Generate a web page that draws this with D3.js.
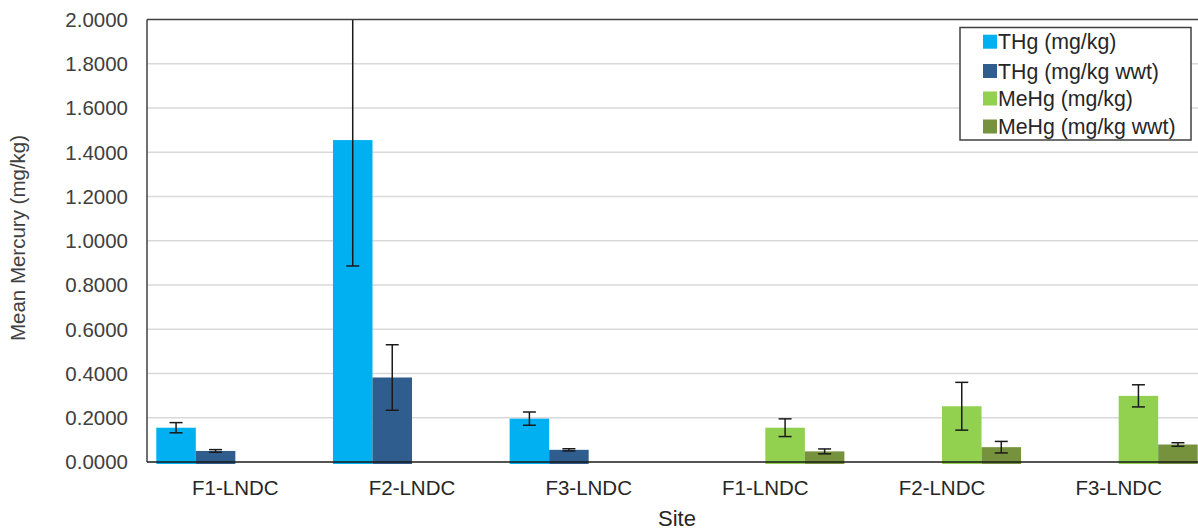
<!DOCTYPE html>
<html>
<head>
<meta charset="utf-8">
<script src="https://cdn.jsdelivr.net/npm/d3@7"></script>
<style>
  html, body { margin: 0; padding: 0; background: #fff; }
  svg { display: block; font-family: "Liberation Sans", Arial, sans-serif; }
</style>
</head>
<body>
<svg id="chart" width="1198" height="531"></svg>
<script>
// ---- data ----
const categories = ["F1-LNDC", "F2-LNDC", "F3-LNDC", "F1-LNDC", "F2-LNDC", "F3-LNDC"];
const seriesNames = ["THg (mg/kg)", "THg (mg/kg wwt)", "MeHg (mg/kg)", "MeHg (mg/kg wwt)"];
const thgValues     = [0.155, 1.455, 0.196, null, null, null];
const thgErrors     = [0.023, 0.569, 0.030, null, null, null];
const thgWwtValues  = [0.050, 0.382, 0.055, null, null, null];
const thgWwtErrors  = [0.006, 0.148, 0.005, null, null, null];
const mehgValues    = [null, null, null, 0.155, 0.252, 0.299];
const mehgErrors    = [null, null, null, 0.040, 0.108, 0.050];
const mehgWwtValues = [null, null, null, 0.048, 0.067, 0.079];
const mehgWwtErrors = [null, null, null, 0.011, 0.026, 0.008];
const yTicks = [0, 0.2, 0.4, 0.6, 0.8, 1.0, 1.2, 1.4, 1.6, 1.8, 2.0];
const colors = ["#00B0F0", "#2F5E8E", "#92D050", "#76923C"];

const seriesValues = [thgValues, thgWwtValues, mehgValues, mehgWwtValues];
const seriesErrors = [thgErrors, thgWwtErrors, mehgErrors, mehgWwtErrors];

(function () {
// ---- layout ----
const svg = d3.select("#chart");
const pLeft = 147, pTop = 19.5, pBottom = 462, pRight = 1207;

const x0 = d3.scaleBand().domain(d3.range(categories.length)).range([pLeft, pRight]).padding(0);
const x1 = d3.scaleBand().domain(d3.range(seriesNames.length))
  .range([9.3, x0.bandwidth() - 9.3]).padding(0);
const y = d3.scaleLinear().domain([0, 2]).range([pBottom, pTop]);

// clip
svg.append("defs").append("clipPath").attr("id", "plotclip")
  .append("rect").attr("x", pLeft).attr("y", pTop).attr("width", pRight - pLeft).attr("height", pBottom - pTop + 4);

// gridlines
svg.append("g").selectAll("line").data(yTicks.filter(t => t > 0 && t < 2)).join("line")
  .attr("x1", pLeft).attr("x2", 1198)
  .attr("y1", d => y(d)).attr("y2", d => y(d))
  .attr("stroke", "#d9d9d9").attr("stroke-width", 1.5);

// y tick labels
svg.append("g").selectAll("text").data(yTicks).join("text")
  .attr("x", 128).attr("y", d => y(d)).attr("dy", "0.36em")
  .attr("text-anchor", "end").attr("font-size", 20.5).attr("fill", "#404040")
  .text(d => d.toFixed(4));

// bars
const plot = svg.append("g").attr("clip-path", "url(#plotclip)");
const barData = [];
seriesValues.forEach((vals, s) => vals.forEach((v, i) => {
  if (v != null) barData.push({ s, i, v, e: seriesErrors[s][i] });
}));

plot.selectAll("rect.bar").data(barData).join("rect")
  .attr("class", "bar")
  .attr("x", d => x0(d.i) + x1(d.s))
  .attr("width", x1.bandwidth())
  .attr("y", d => y(d.v))
  .attr("height", d => y(0) - y(d.v) + 2)
  .attr("fill", d => colors[d.s]);

// error bars
const capW = 6.5;
const cx = d => x0(d.i) + x1(d.s) + x1.bandwidth() / 2;
const eb = plot.selectAll("g.err").data(barData).join("g").attr("class", "err")
  .attr("stroke", "#1a1a1a").attr("stroke-width", 1.5);
eb.append("line")
  .attr("x1", cx).attr("x2", cx)
  .attr("y1", d => y(d.v + d.e)).attr("y2", d => y(d.v - d.e));
eb.append("line")
  .attr("x1", d => cx(d) - capW).attr("x2", d => cx(d) + capW)
  .attr("y1", d => y(d.v + d.e)).attr("y2", d => y(d.v + d.e));
eb.append("line")
  .attr("x1", d => cx(d) - capW).attr("x2", d => cx(d) + capW)
  .attr("y1", d => y(d.v - d.e)).attr("y2", d => y(d.v - d.e));

// axis lines
svg.append("line").attr("x1", pLeft).attr("x2", 1198).attr("y1", pTop).attr("y2", pTop)
  .attr("stroke", "#404040").attr("stroke-width", 1.5);
svg.append("line").attr("x1", pLeft).attr("x2", pLeft).attr("y1", pTop).attr("y2", pBottom)
  .attr("stroke", "#404040").attr("stroke-width", 1.5);
svg.append("line").attr("x1", pLeft).attr("x2", 1198).attr("y1", pBottom).attr("y2", pBottom)
  .attr("stroke", "#1a1a1a").attr("stroke-width", 1.5);

// x labels
svg.append("g").selectAll("text").data(categories).join("text")
  .attr("x", (d, i) => x0(i) + x0.bandwidth() / 2)
  .attr("y", 487.5).attr("dy", "0.36em")
  .attr("text-anchor", "middle").attr("font-size", 20.5).attr("fill", "#262626")
  .text(d => d);

// axis titles
svg.append("text").attr("x", 677).attr("y", 518).attr("dy", "0.36em")
  .attr("text-anchor", "middle").attr("font-size", 22).attr("fill", "#262626").text("Site");
svg.append("text")
  .attr("transform", "translate(18,238) rotate(-90)").attr("dy", "0.36em")
  .attr("text-anchor", "middle").attr("font-size", 20.5).attr("fill", "#404040")
  .text("Mean Mercury (mg/kg)");

// legend
const lg = svg.append("g");
lg.append("rect").attr("x", 960).attr("y", 27.5).attr("width", 231).attr("height", 112.5)
  .attr("fill", "#fff").attr("stroke", "#404040").attr("stroke-width", 1.5);
const rowY = [41.7, 71, 98.5, 126.5];
const items = lg.selectAll("g.item").data(seriesNames).join("g").attr("class", "item")
  .attr("transform", (d, i) => `translate(983,${rowY[i]})`);
items.append("rect").attr("x", 0).attr("y", -7).attr("width", 14).attr("height", 14)
  .attr("fill", (d, i) => colors[i]);
items.append("text").attr("x", 15).attr("y", 0).attr("dy", "0.36em")
  .attr("font-size", 21.3).attr("fill", "#262626").text(d => d);
})();
</script>
</body>
</html>
